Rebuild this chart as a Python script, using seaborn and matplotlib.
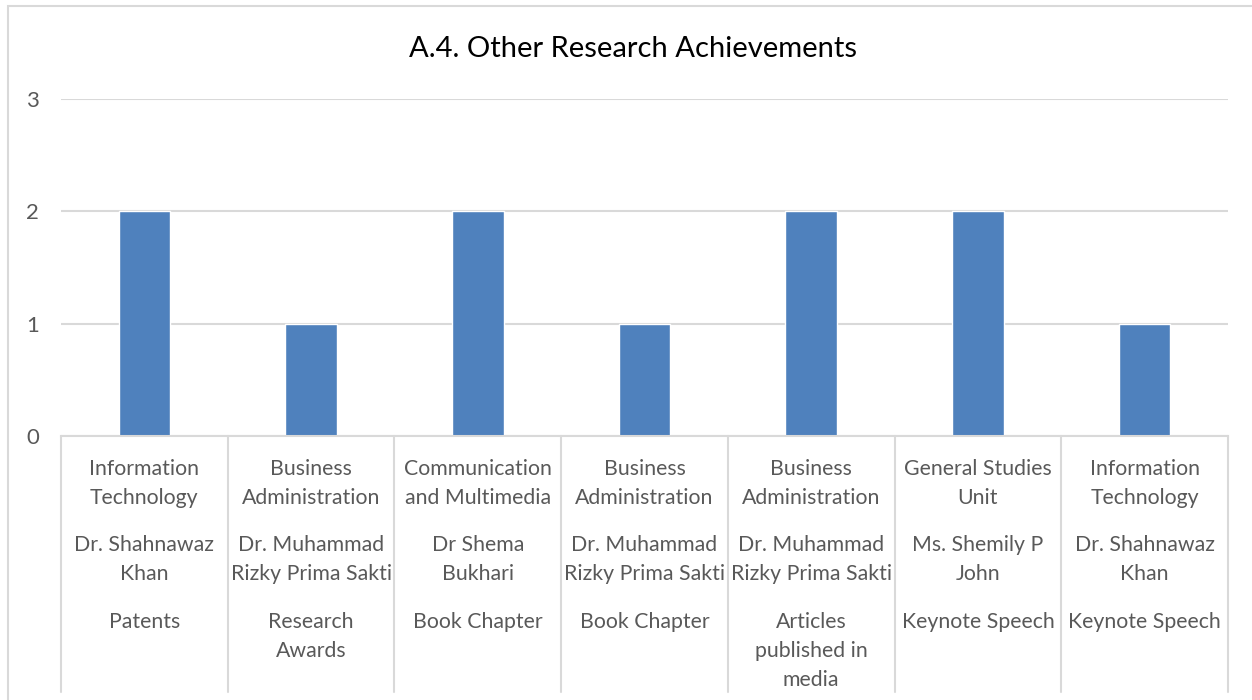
import pandas as pd
import matplotlib
matplotlib.use('Agg')
from matplotlib import pyplot as plt
from matplotlib.patches import Rectangle
import seaborn as sns

departments = ['Information\nTechnology', 'Business\nAdministration', 'Communication\nand Multimedia',
               'Business\nAdministration', 'Business\nAdministration', 'General Studies\nUnit',
               'Information\nTechnology']
people = ['Dr. Shahnawaz\nKhan', 'Dr. Muhammad\nRizky Prima Sakti', 'Dr Shema\nBukhari',
          'Dr. Muhammad\nRizky Prima Sakti', 'Dr. Muhammad\nRizky Prima Sakti', 'Ms. Shemily P\nJohn',
          'Dr. Shahnawaz\nKhan']
achievements = ['Patents', 'Research\nAwards', 'Book Chapter', 'Book Chapter',
                'Articles\npublished in\nmedia', 'Keynote Speech', 'Keynote Speech']
counts = [2, 1, 2, 1, 2, 2, 1]
y_ticks = [0, 1, 2, 3]

W, H = 1252, 700

if __name__ == '__main__':
    sns.set_style('white')
    plt.rcParams['font.family'] = ['Lato', 'DejaVu Sans']

    df = pd.DataFrame({'pos': list(range(len(counts))), 'count': counts})

    fig = plt.figure(figsize=(W / 100, H / 100), dpi=100)
    fig.patches.append(Rectangle((8 / W, -0.1), 1.2, 1 - 6 / H + 0.1, transform=fig.transFigure,
                                 fill=False, edgecolor='#D9D9D9', linewidth=1.5))
    ax = fig.add_axes([61 / W, 1 - 436 / H, (1228 - 61) / W, (436 - 99) / H])

    sns.barplot(data=df, x='pos', y='count', color='#4F81BD', saturation=1, width=0.31, ax=ax)

    ax.set_xlim(-0.5, len(counts) - 0.5)
    ax.set_ylim(0, 3)
    ax.set_yticks(y_ticks)
    ax.set_yticklabels([str(t) for t in y_ticks], fontsize=16, color='#595959')
    ax.tick_params(axis='y', length=0, pad=16)
    ax.set_xticks([])
    ax.set_xlabel('')
    ax.set_ylabel('')
    ax.grid(axis='y', color='#D9D9D9', linewidth=1.5)
    ax.set_axisbelow(True)
    for s in ['top', 'right', 'left']:
        ax.spines[s].set_visible(False)
    ax.spines['bottom'].set_color('#D9D9D9')
    ax.spines['bottom'].set_linewidth(1.5)

    # multi-level category labels
    ax_h = 436 - 99
    def ay(py):
        return (436 - py) / ax_h

    tr = ax.get_xaxis_transform()
    for i in range(len(counts)):
        for text, top in [(departments[i], 459), (people[i], 535), (achievements[i], 612)]:
            ax.text(i, ay(top), text, transform=tr, ha='center', va='top', fontsize=15.3,
                    color='#595959', linespacing=1.55, clip_on=False)
    for k in range(len(counts) + 1):
        ax.plot([k - 0.5, k - 0.5], [0, ay(692)], transform=tr, color='#D9D9D9',
                linewidth=1.5, clip_on=False)

    fig.text(633 / W, 1 - 49 / H, 'A.4. Other Research Achievements', ha='center', va='center',
             fontsize=21, color='#000000')

    fig.savefig('out.png', dpi=100)
